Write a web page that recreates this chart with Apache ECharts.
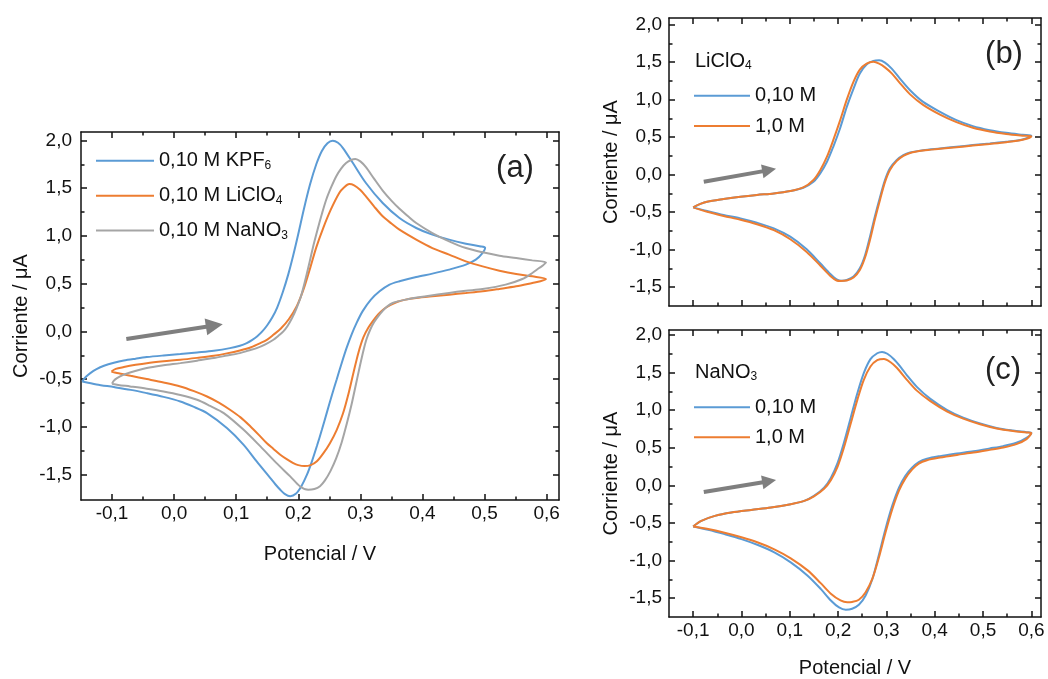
<!DOCTYPE html>
<html>
<head>
<meta charset="utf-8">
<script src="https://cdn.jsdelivr.net/npm/echarts@6/dist/echarts.min.js"></script>
<style>
  html, body { margin: 0; padding: 0; background: #fff; }
  #chart { width: 1048px; height: 679px; }
</style>
</head>
<body>
<div id="chart"></div>
<script>
// Tick positions: potential (V) and current (µA)
const xMajor = [-0.1, 0, 0.1, 0.2, 0.3, 0.4, 0.5, 0.6];
const xMinor = [-0.05, 0.05, 0.15, 0.25, 0.35, 0.45, 0.55];
const yMajor = [-1.5, -1.0, -0.5, 0, 0.5, 1.0, 1.5, 2.0];
const yMinor = [-1.25, -0.75, -0.25, 0.25, 0.75, 1.25, 1.75];

// (a) 0,10 M KPF6 — [potential, current], forward scan then reverse scan
const a_KPF6 = [
  [-0.148,-0.524],[-0.142,-0.475],[-0.135,-0.436],[-0.125,-0.395],[-0.113,-0.36],[-0.097,-0.328],
  [-0.081,-0.304],[-0.062,-0.285],[-0.044,-0.269],[-0.017,-0.252],[0.01,-0.237],[0.037,-0.22],
  [0.064,-0.202],[0.09,-0.175],[0.106,-0.15],[0.117,-0.122],[0.126,-0.088],[0.134,-0.05],[0.142,0.0],
  [0.15,0.065],[0.158,0.145],[0.166,0.25],[0.175,0.41],[0.184,0.60],[0.192,0.80],[0.2,1.02],[0.209,1.28],
  [0.219,1.54],[0.229,1.75],[0.238,1.89],[0.247,1.97],[0.2555,1.997],[0.264,1.975],[0.272,1.92],
  [0.288,1.763],[0.309,1.554],[0.336,1.344],[0.363,1.187],[0.39,1.083],[0.416,1.013],[0.443,0.961],
  [0.47,0.919],[0.492,0.891],[0.501,0.876],
  [0.496,0.814],[0.486,0.751],[0.47,0.699],[0.443,0.647],[0.416,0.605],[0.39,0.57],[0.363,0.525],
  [0.347,0.49],[0.331,0.42],[0.317,0.333],[0.304,0.215],[0.294,0.09],[0.286,-0.03],[0.278,-0.17],
  [0.27,-0.33],[0.262,-0.50],[0.254,-0.67],[0.246,-0.85],[0.238,-1.03],[0.23,-1.2],[0.222,-1.36],
  [0.214,-1.50],[0.205,-1.62],[0.196,-1.70],[0.187,-1.725],[0.178,-1.70],[0.171,-1.658],[0.163,-1.6],
  [0.155,-1.536],[0.133,-1.361],[0.112,-1.187],[0.085,-1.012],[0.053,-0.855],[0.03,-0.785],
  [0.01,-0.733],[-0.017,-0.685],[-0.044,-0.646],[-0.07,-0.612],[-0.097,-0.583],[-0.125,-0.555],
  [-0.148,-0.524]
];

// (a) 0,10 M LiClO4
const a_LiClO4 = [
  [-0.101,-0.419],[-0.094,-0.392],[-0.081,-0.373],[-0.062,-0.35],[-0.044,-0.332],[-0.017,-0.313],
  [0.01,-0.297],[0.037,-0.277],[0.064,-0.255],[0.085,-0.23],[0.106,-0.199],[0.124,-0.165],[0.139,-0.122],
  [0.15,-0.085],[0.16,-0.035],[0.172,0.03],[0.185,0.13],[0.198,0.27],[0.209,0.45],[0.219,0.66],[0.229,0.88],
  [0.24,1.08],[0.252,1.27],[0.266,1.45],[0.274,1.51],[0.282,1.543],[0.29,1.53],[0.3,1.48],[0.309,1.414],
  [0.322,1.31],[0.336,1.205],[0.35,1.13],[0.363,1.065],[0.39,0.961],[0.416,0.873],[0.443,0.804],
  [0.47,0.734],[0.497,0.681],[0.524,0.636],[0.551,0.601],[0.577,0.577],[0.599,0.549],
  [0.59,0.525],[0.577,0.507],[0.551,0.472],[0.524,0.445],[0.497,0.42],[0.47,0.402],[0.443,0.385],
  [0.416,0.368],[0.39,0.35],[0.373,0.333],[0.36,0.31],[0.348,0.275],[0.338,0.235],[0.329,0.18],
  [0.321,0.115],[0.313,0.04],[0.305,-0.06],[0.297,-0.22],[0.289,-0.43],[0.281,-0.65],[0.272,-0.86],
  [0.262,-1.03],[0.251,-1.17],[0.24,-1.28],[0.23,-1.36],[0.22,-1.40],[0.21,-1.41],[0.2,-1.40],
  [0.192,-1.379],[0.182,-1.34],[0.171,-1.291],[0.16,-1.23],[0.149,-1.169],[0.136,-1.08],[0.123,-0.995],
  [0.107,-0.9],[0.09,-0.82],[0.072,-0.745],[0.053,-0.681],[0.032,-0.625],[0.01,-0.576],[-0.017,-0.535],
  [-0.044,-0.499],[-0.07,-0.465],[-0.092,-0.436],[-0.101,-0.419]
];

// (a) 0,10 M NaNO3
const a_NaNO3 = [
  [-0.1,-0.548],[-0.097,-0.515],[-0.092,-0.489],[-0.082,-0.455],[-0.071,-0.43],[-0.044,-0.384],
  [-0.017,-0.355],[0.01,-0.332],[0.037,-0.306],[0.064,-0.279],[0.085,-0.253],[0.106,-0.227],[0.12,-0.2],
  [0.133,-0.175],[0.147,-0.135],[0.16,-0.087],[0.168,-0.045],[0.176,0.0],[0.183,0.06],[0.19,0.14],
  [0.197,0.24],[0.204,0.36],[0.211,0.53],[0.218,0.72],[0.224,0.89],[0.231,1.065],[0.238,1.23],
  [0.245,1.379],[0.253,1.51],[0.261,1.623],[0.269,1.705],[0.277,1.763],[0.285,1.795],[0.292,1.805],
  [0.3,1.78],[0.309,1.72],[0.322,1.6],[0.336,1.475],[0.35,1.37],[0.363,1.285],[0.377,1.205],[0.39,1.135],
  [0.416,1.03],[0.443,0.943],[0.47,0.873],[0.497,0.828],[0.524,0.793],[0.551,0.769],[0.577,0.744],
  [0.599,0.723],
  [0.594,0.69],[0.588,0.664],[0.577,0.612],[0.561,0.549],[0.534,0.49],[0.497,0.444],[0.47,0.425],
  [0.443,0.403],[0.406,0.368],[0.373,0.333],[0.352,0.298],[0.343,0.26],[0.336,0.215],[0.329,0.16],
  [0.322,0.095],[0.316,0.02],[0.31,-0.08],[0.305,-0.2],[0.299,-0.37],[0.293,-0.55],[0.286,-0.76],
  [0.278,-0.97],[0.27,-1.16],[0.261,-1.33],[0.252,-1.46],[0.243,-1.56],[0.235,-1.62],[0.226,-1.65],
  [0.216,-1.658],[0.203,-1.623],[0.187,-1.518],[0.165,-1.379],[0.139,-1.204],[0.112,-1.03],
  [0.08,-0.855],[0.058,-0.78],[0.037,-0.716],[0.01,-0.665],[-0.017,-0.628],[-0.044,-0.6],[-0.071,-0.576],
  [-0.09,-0.56],[-0.1,-0.548]
];

// (b) LiClO4, 0,10 M
const b_010 = [
  [-0.1,-0.436],[-0.085,-0.39],[-0.071,-0.36],[-0.037,-0.325],[-0.002,-0.294],[0.032,-0.27],[0.067,-0.25],
  [0.101,-0.218],[0.128,-0.174],[0.149,-0.094],[0.163,0.017],[0.177,0.172],[0.19,0.372],[0.204,0.616],
  [0.218,0.904],[0.232,1.148],[0.245,1.348],[0.259,1.468],[0.273,1.516],[0.285,1.525],[0.297,1.494],
  [0.311,1.414],[0.328,1.281],[0.349,1.126],[0.376,0.97],[0.411,0.838],[0.445,0.727],[0.479,0.647],
  [0.514,0.594],[0.548,0.558],[0.582,0.531],[0.6,0.518],
  [0.582,0.47],[0.548,0.438],[0.514,0.416],[0.479,0.394],[0.445,0.372],[0.411,0.35],[0.376,0.327],
  [0.349,0.296],[0.335,0.261],[0.321,0.194],[0.307,0.083],[0.297,-0.072],[0.287,-0.294],[0.276,-0.56],
  [0.266,-0.826],[0.256,-1.07],[0.245,-1.248],[0.232,-1.358],[0.218,-1.403],[0.208,-1.412],[0.197,-1.394],
  [0.184,-1.323],[0.163,-1.181],[0.135,-0.995],[0.101,-0.826],[0.067,-0.715],[0.032,-0.64],[-0.002,-0.582],
  [-0.037,-0.538],[-0.071,-0.485],[-0.1,-0.436]
];

// (b) LiClO4, 1,0 M
const b_10 = [
  [-0.1,-0.436],[-0.085,-0.39],[-0.071,-0.36],[-0.037,-0.325],[-0.002,-0.294],[0.032,-0.27],[0.067,-0.25],
  [0.101,-0.218],[0.128,-0.17],[0.149,-0.07],[0.163,0.06],[0.177,0.24],[0.19,0.46],[0.204,0.72],[0.218,1.0],
  [0.232,1.24],[0.245,1.40],[0.259,1.48],[0.273,1.505],[0.285,1.48],[0.297,1.43],[0.311,1.35],[0.328,1.22],
  [0.349,1.07],[0.376,0.93],[0.411,0.80],[0.445,0.70],[0.479,0.625],[0.514,0.575],[0.548,0.543],
  [0.582,0.52],[0.6,0.51],
  [0.582,0.465],[0.548,0.433],[0.514,0.41],[0.479,0.388],[0.445,0.366],[0.411,0.345],[0.376,0.322],
  [0.349,0.29],[0.335,0.25],[0.321,0.18],[0.307,0.06],[0.297,-0.10],[0.287,-0.33],[0.276,-0.60],
  [0.266,-0.87],[0.256,-1.10],[0.245,-1.27],[0.232,-1.37],[0.218,-1.41],[0.205,-1.416],[0.197,-1.41],
  [0.184,-1.35],[0.163,-1.21],[0.135,-1.03],[0.101,-0.86],[0.067,-0.74],[0.032,-0.66],[-0.002,-0.60],
  [-0.037,-0.55],[-0.071,-0.495],[-0.1,-0.436]
];

// (c) NaNO3, 0,10 M
const c_010 = [
  [-0.1,-0.546],[-0.083,-0.471],[-0.055,-0.405],[-0.021,-0.36],[0.02,-0.326],[0.061,-0.295],[0.102,-0.25],
  [0.13,-0.206],[0.15,-0.14],[0.171,-0.03],[0.185,0.10],[0.199,0.30],[0.212,0.566],[0.226,0.897],
  [0.24,1.228],[0.253,1.49],[0.267,1.678],[0.281,1.757],[0.291,1.775],[0.302,1.75],[0.315,1.68],
  [0.33,1.57],[0.343,1.46],[0.363,1.31],[0.391,1.15],[0.425,1.005],[0.459,0.9],[0.494,0.822],[0.528,0.764],
  [0.562,0.729],[0.59,0.707],[0.6,0.698],
  [0.59,0.632],[0.569,0.566],[0.542,0.522],[0.514,0.491],[0.48,0.455],[0.446,0.424],[0.411,0.389],
  [0.384,0.354],[0.367,0.31],[0.353,0.235],[0.339,0.124],[0.326,-0.03],[0.312,-0.273],[0.298,-0.582],
  [0.284,-0.935],[0.271,-1.244],[0.257,-1.464],[0.243,-1.588],[0.229,-1.641],[0.216,-1.654],[0.202,-1.623],
  [0.185,-1.53],[0.164,-1.376],[0.137,-1.2],[0.102,-1.023],[0.068,-0.89],[0.034,-0.793],[0.0,-0.714],
  [-0.035,-0.648],[-0.069,-0.59],[-0.1,-0.546]
];

// (c) NaNO3, 1,0 M
const c_10 = [
  [-0.1,-0.546],[-0.083,-0.471],[-0.055,-0.405],[-0.021,-0.36],[0.02,-0.326],[0.061,-0.295],[0.102,-0.25],
  [0.13,-0.206],[0.15,-0.145],[0.171,-0.045],[0.185,0.07],[0.199,0.25],[0.212,0.50],[0.226,0.82],
  [0.24,1.14],[0.253,1.40],[0.267,1.58],[0.281,1.665],[0.295,1.68],[0.308,1.64],[0.322,1.56],[0.343,1.40],
  [0.363,1.26],[0.391,1.12],[0.425,0.985],[0.459,0.887],[0.494,0.812],[0.528,0.756],[0.562,0.722],
  [0.59,0.703],[0.6,0.695],
  [0.59,0.615],[0.569,0.548],[0.542,0.503],[0.514,0.472],[0.48,0.436],[0.446,0.405],[0.411,0.37],
  [0.384,0.335],[0.367,0.29],[0.353,0.21],[0.339,0.09],[0.326,-0.07],[0.312,-0.32],[0.298,-0.63],
  [0.284,-0.97],[0.271,-1.24],[0.257,-1.42],[0.243,-1.52],[0.229,-1.55],[0.219,-1.555],[0.205,-1.53],
  [0.185,-1.44],[0.164,-1.30],[0.137,-1.13],[0.102,-0.97],[0.068,-0.85],[0.034,-0.76],[0.0,-0.69],
  [-0.035,-0.63],[-0.069,-0.58],[-0.1,-0.546]
];

// Scan-direction arrows: [start, end] in [V, µA]
const arrowA = [[-0.077, -0.08], [0.0648, 0.0615]];
const arrowB = [[-0.078, -0.095], [0.0573, 0.061]];
const arrowC = [[-0.078, -0.089], [0.0573, 0.056]];

const FONT = "'Liberation Sans', Arial, Helvetica, sans-serif";
const INK = '#111';
const BLUE = '#5b9bd5', ORANGE = '#ed7d31', GRAY = '#a5a5a5', ARROW = '#7f7f7f';

const fmt = v => (Math.abs(v) < 1e-9 ? '0,0' : v.toFixed(1).replace('.', ','));
const axisLineStyle = { color: INK, width: 1.5 };

const panels = [
  { grid: { left: 81, top: 132, width: 478, height: 368 }, yMin: -1.765, yMax: 2.088,
    xLabels: true, xName: 'Potencial / V', xNameGap: 44, yNameGap: 50, yLabelMargin: 9 },
  { grid: { left: 669, top: 18, width: 372, height: 288 }, yMin: -1.75, yMax: 2.088,
    xLabels: false, xName: '', xNameGap: 0, yNameGap: 48, yLabelMargin: 7 },
  { grid: { left: 669, top: 330, width: 372, height: 288 }, yMin: -1.75, yMax: 2.066,
    xLabels: true, xName: 'Potencial / V', xNameGap: 41, yNameGap: 48, yLabelMargin: 7 }
];

const grids = [], xAxes = [], yAxes = [];
panels.forEach((p, gi) => {
  grids.push(Object.assign({ containLabel: false }, p.grid));
  const base = { gridIndex: gi, type: 'value', splitLine: { show: false }, silent: true };
  const xr = { min: -0.15, max: 0.62 }, yr = { min: p.yMin, max: p.yMax };
  // bottom: line, major ticks, labels, name
  xAxes.push(Object.assign({}, base, xr, {
    position: 'bottom',
    axisLine: { show: true, onZero: false, lineStyle: axisLineStyle },
    axisTick: { show: true, inside: true, length: 6, customValues: xMajor, lineStyle: axisLineStyle },
    axisLabel: { show: p.xLabels, customValues: xMajor, formatter: fmt, margin: 4,
                 fontSize: 19, color: INK, fontFamily: FONT },
    name: p.xName, nameLocation: 'middle', nameGap: p.xNameGap,
    nameTextStyle: { fontSize: 20, color: INK, fontFamily: FONT }
  }));
  // bottom minor ticks
  xAxes.push(Object.assign({}, base, xr, {
    position: 'bottom', axisLine: { show: false, onZero: false },
    axisTick: { show: true, inside: true, length: 3.5, customValues: xMinor, lineStyle: axisLineStyle },
    axisLabel: { show: false }
  }));
  // top frame with ticks
  xAxes.push(Object.assign({}, base, xr, {
    position: 'top',
    axisLine: { show: true, onZero: false, lineStyle: axisLineStyle },
    axisTick: { show: true, inside: true, length: 6, customValues: xMajor, lineStyle: axisLineStyle },
    axisLabel: { show: false }
  }));
  xAxes.push(Object.assign({}, base, xr, {
    position: 'top', axisLine: { show: false, onZero: false },
    axisTick: { show: true, inside: true, length: 3.5, customValues: xMinor, lineStyle: axisLineStyle },
    axisLabel: { show: false }
  }));
  // left: line, ticks, labels, name
  yAxes.push(Object.assign({}, base, yr, {
    position: 'left',
    axisLine: { show: true, onZero: false, lineStyle: axisLineStyle },
    axisTick: { show: true, inside: true, length: 6, customValues: yMajor, lineStyle: axisLineStyle },
    axisLabel: { customValues: yMajor, formatter: fmt, margin: p.yLabelMargin,
                 fontSize: 19, color: INK, fontFamily: FONT },
    name: 'Corriente / μA', nameLocation: 'middle', nameGap: p.yNameGap,
    nameTextStyle: { fontSize: 20, color: INK, fontFamily: FONT }
  }));
  yAxes.push(Object.assign({}, base, yr, {
    position: 'left', axisLine: { show: false, onZero: false },
    axisTick: { show: true, inside: true, length: 3.5, customValues: yMinor, lineStyle: axisLineStyle },
    axisLabel: { show: false }
  }));
  // right frame with ticks
  yAxes.push(Object.assign({}, base, yr, {
    position: 'right',
    axisLine: { show: true, onZero: false, lineStyle: axisLineStyle },
    axisTick: { show: true, inside: true, length: 6, customValues: yMajor, lineStyle: axisLineStyle },
    axisLabel: { show: false }
  }));
  yAxes.push(Object.assign({}, base, yr, {
    position: 'right', axisLine: { show: false, onZero: false },
    axisTick: { show: true, inside: true, length: 3.5, customValues: yMinor, lineStyle: axisLineStyle },
    axisLabel: { show: false }
  }));
});

function arrowMark(a, head) {
  return {
    silent: true, animation: false,
    symbol: ['none', 'triangle'], symbolSize: head,
    label: { show: false }, emphasis: { disabled: true },
    lineStyle: { color: ARROW, width: 4, type: 'solid', opacity: 1 },
    itemStyle: { color: ARROW },
    data: [[{ coord: a[0] }, { coord: a[1] }]]
  };
}

function cv(name, gi, data, color, mark) {
  const s = {
    name, type: 'line', data, xAxisIndex: gi * 4, yAxisIndex: gi * 4,
    symbol: 'none', smooth: 0.3, clip: true,
    lineStyle: { color, width: 2 }, itemStyle: { color },
    emphasis: { disabled: true }, animation: false, z: 3
  };
  if (mark) s.markLine = mark;
  return s;
}

const series = [
  cv('0,10 M KPF6', 0, a_KPF6, BLUE, arrowMark(arrowA, 17)),
  cv('0,10 M LiClO4', 0, a_LiClO4, ORANGE),
  cv('0,10 M NaNO3', 0, a_NaNO3, GRAY),
  cv('0,10 M', 1, b_010, BLUE, arrowMark(arrowB, 14)),
  cv('1,0 M', 1, b_10, ORANGE),
  cv('0,10 M', 2, c_010, BLUE, arrowMark(arrowC, 14)),
  cv('1,0 M', 2, c_10, ORANGE)
];

const sub = { fontSize: 12, lineHeight: 6, verticalAlign: 'bottom', fontFamily: FONT, color: INK };
const legendText = {
  '0,10 M KPF6': '0,10 M KPF{s|6}',
  '0,10 M LiClO4': '0,10 M LiClO{s|4}',
  '0,10 M NaNO3': '0,10 M NaNO{s|3}',
  '0,10 M': '0,10 M',
  '1,0 M': '1,0 M'
};
function legendItem(name, left, top, w, color) {
  return {
    data: [name], left, top, orient: 'vertical', padding: 0,
    icon: 'rect', itemWidth: w, itemHeight: 2, selectedMode: false,
    itemStyle: { color },
    formatter: n => legendText[n],
    textStyle: { fontSize: 20, lineHeight: 22, color: INK, fontFamily: FONT, rich: { s: sub } }
  };
}
const legends = [
  legendItem('0,10 M KPF6', 96, 149.7, 58, BLUE),
  legendItem('0,10 M LiClO4', 96, 184.7, 58, ORANGE),
  legendItem('0,10 M NaNO3', 96, 219.5, 58, GRAY),
  legendItem('0,10 M', 694, 84.7, 56, BLUE),
  legendItem('1,0 M', 694, 115, 56, ORANGE),
  legendItem('0,10 M', 694, 396.3, 56, BLUE),
  legendItem('1,0 M', 694, 426.3, 56, ORANGE)
];

function label(text, x, y, size) {
  return { type: 'text', x, y, silent: true,
    style: { text, font: size + 'px ' + FONT, fill: '#222', align: 'center', verticalAlign: 'middle' } };
}
function saltTitle(text, x, y) {
  return { type: 'text', x, y, silent: true,
    style: { text, font: '20px ' + FONT, fill: INK, align: 'left', verticalAlign: 'middle',
             lineHeight: 22, rich: { s: sub } } };
}

const chart = echarts.init(document.getElementById('chart'), null, { renderer: 'canvas' });
chart.setOption({
  backgroundColor: '#fff',
  animation: false,
  grid: grids,
  xAxis: xAxes,
  yAxis: yAxes,
  legend: legends,
  series,
  graphic: [
    label('(a)', 515, 168, 31),
    label('(b)', 1004, 54, 31),
    label('(c)', 1003, 370, 31),
    saltTitle('LiClO{s|4}', 695, 61),
    saltTitle('NaNO{s|3}', 695, 372)
  ]
});
</script>
</body>
</html>
